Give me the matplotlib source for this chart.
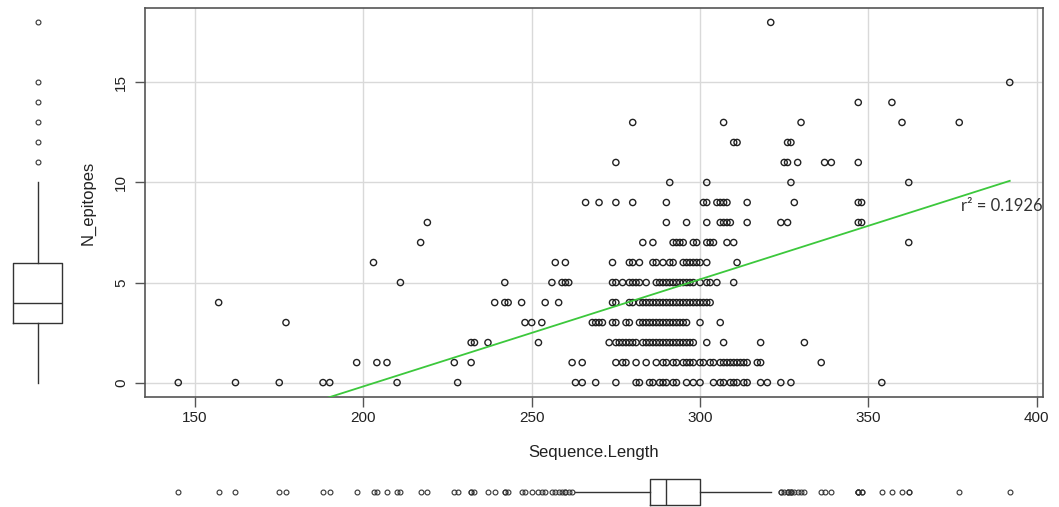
import matplotlib
matplotlib.use("Agg")
import matplotlib.pyplot as plt
import numpy as np

plt.rcParams['font.family'] = ['Liberation Sans', 'DejaVu Sans']

# Sequence.Length values for each N_epitopes count
ep0 = [145, 162, 175, 188, 190, 210, 228, 263, 265, 269, 275, 281, 282, 285, 286, 288, 289, 290,
       292, 293, 296, 298, 300, 304, 306, 307, 309, 310, 311, 313, 314, 318, 320, 324, 327, 354]
ep1 = [198, 204, 207, 227, 232, 262, 265, 275, 277, 278, 281, 284, 287, 289, 290, 292, 293, 295,
       296, 297, 298, 300, 301, 303, 304, 306, 307, 308, 309, 310, 311, 312, 313, 314, 317, 318, 336]
ep2 = [232, 233, 237, 252, 273, 275, 276, 277, 278, 279, 280, 281, 283, 284, 285, 286, 287, 288,
       289, 290, 291, 292, 293, 294, 295, 296, 297, 298, 302, 307, 318, 331]
ep3 = [177, 248, 250, 253, 268, 269, 270, 271, 274, 275, 278, 279, 282, 283, 284, 285, 286, 287,
       288, 289, 290, 291, 292, 293, 294, 295, 296, 300, 306]
ep4 = [157, 239, 242, 243, 247, 254, 258, 274, 275, 279, 280, 282, 283, 284, 285, 286, 287, 288,
       289, 290, 291, 292, 293, 294, 295, 296, 297, 298, 299, 300, 301, 302, 303]
ep5 = [211, 242, 256, 259, 260, 261, 274, 275, 277, 279, 280, 281, 282, 284, 287, 288, 289, 290,
       291, 292, 293, 294, 295, 296, 297, 298, 300, 302, 303, 305, 310]
ep6 = [203, 257, 260, 274, 279, 280, 282, 286, 287, 289, 291, 292, 295, 296, 297, 298, 299, 300, 302, 311]
ep7 = [217, 283, 286, 292, 293, 294, 295, 298, 299, 302, 303, 304, 308, 310, 362]
ep8 = [219, 290, 296, 302, 306, 307, 308, 309, 314, 324, 326, 347, 348]
ep9 = [266, 270, 275, 280, 290, 301, 302, 305, 306, 307, 308, 314, 328, 347, 348]
ep10 = [291, 302, 327, 362]
ep11 = [275, 325, 326, 329, 337, 339, 347]
ep12 = [310, 311, 326, 327]
ep13 = [280, 307, 330, 360, 377]
ep14 = [347, 357]
ep15 = [392]
ep18 = [321]

rows = {0: ep0, 1: ep1, 2: ep2, 3: ep3, 4: ep4, 5: ep5, 6: ep6, 7: ep7, 8: ep8, 9: ep9,
        10: ep10, 11: ep11, 12: ep12, 13: ep13, 14: ep14, 15: ep15, 18: ep18}
seq_len = np.array([v for k in rows for v in rows[k]], dtype=float)
n_ep = np.array([k for k in rows for v in rows[k]], dtype=float)

# fitted line as drawn in the picture
fit_intercept = -10.89
fit_slope = 0.0535
r2_text = 'r\u00b2 = 0.1926'

# marginal boxplot stats
x_q1, x_med, x_q3, x_lo, x_hi = 285, 290, 300, 263, 321
y_q1, y_med, y_q3, y_lo, y_hi = 3, 4, 6, 0, 10

W, H = 1059, 507
fig = plt.figure(figsize=(W / 100, H / 100), dpi=100)


def px_axes(l, t, r, b):
    return fig.add_axes([l / W, 1 - b / H, (r - l) / W, (b - t) / H])


xlim = (135.12, 401.88)
ylim = (-0.72, 18.72)

ax = px_axes(145, 8, 1043, 397)
ax.set_xlim(*xlim)
ax.set_ylim(*ylim)
ax.grid(color='#d9d9d9', lw=1)
ax.set_axisbelow(True)
ax.scatter(seq_len, n_ep, s=20, facecolors='none', edgecolors='#222222', linewidths=1.0, zorder=3)

xs = np.array([seq_len.min(), seq_len.max()])
ax.plot(xs, fit_intercept + fit_slope * xs, color='#3cc83c', lw=1.3, zorder=4)
ax.text(377.6, 8.85, r2_text, fontsize=12, family=['Lato', 'DejaVu Sans'], color='#333333',
        ha='left', va='center', zorder=5)

ax.set_xticks([150, 200, 250, 300, 350, 400])
ax.set_yticks([0, 5, 10, 15])
for s in ax.spines.values():
    s.set_color('#555555')
    s.set_linewidth(1.2)
ax.tick_params(length=7, width=1, color='#555555', labelsize=11, labelcolor='#222222')
ax.tick_params(axis='x', pad=3)
ax.tick_params(axis='y', labelrotation=90, pad=5)
for lbl in ax.get_yticklabels():
    lbl.set_va('center')

ax.set_xlabel('Sequence.Length', fontsize=12, color='#222222')
ax.xaxis.set_label_coords(0.5, (397 - 452) / 389)
ax.xaxis.label.set_va('center')
ax.set_ylabel('N_epitopes', fontsize=12, color='#222222')
ax.yaxis.set_label_coords((88 - 145) / 898, 0.5)
ax.yaxis.label.set_va('center')
ax.yaxis.label.set_ha('center')

flier_style = dict(marker='o', markersize=3.5, markerfacecolor='none',
                   markeredgecolor='#333333', markeredgewidth=0.8, linestyle='none')
line_style = dict(color='#333333', lw=1)

# left marginal boxplot (N_epitopes)
axl = px_axes(0, 8, 75, 397)
axl.set_xlim(-1, 1)
axl.set_ylim(*ylim)
y_stats = dict(med=y_med, q1=y_q1, q3=y_q3, whislo=y_lo, whishi=y_hi,
               fliers=np.unique(n_ep[(n_ep > y_hi) | (n_ep < y_lo)]))
axl.bxp([y_stats], positions=[0], widths=1.33, orientation='vertical', showcaps=False,
        boxprops=line_style, whiskerprops=line_style, medianprops=line_style,
        flierprops=flier_style)
axl.axis('off')

# bottom marginal boxplot (Sequence.Length)
axb = px_axes(145, 472, 1043, 512)
axb.set_xlim(*xlim)
axb.set_ylim(-1, 1)
x_stats = dict(med=x_med, q1=x_q1, q3=x_q3, whislo=x_lo, whishi=x_hi,
               fliers=seq_len[(seq_len > x_hi) | (seq_len < x_lo)])
axb.bxp([x_stats], positions=[0], widths=1.3, orientation='horizontal', showcaps=False,
        boxprops=line_style, whiskerprops=line_style, medianprops=line_style,
        flierprops=flier_style)
axb.axis('off')

fig.savefig('out.png', dpi=100)
